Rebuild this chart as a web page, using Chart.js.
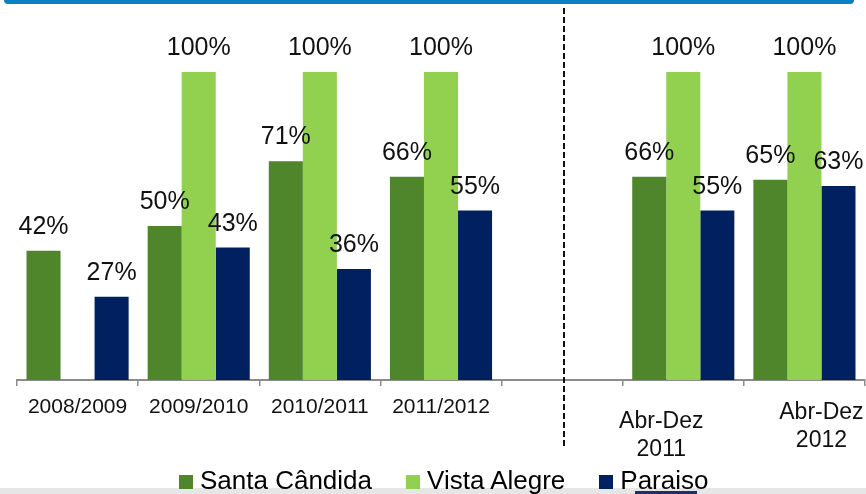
<!DOCTYPE html>
<html>
<head>
<meta charset="utf-8">
<script src="https://cdn.jsdelivr.net/npm/chart.js@4.4.1/dist/chart.umd.min.js"></script>
<style>
  html, body { margin: 0; padding: 0; background: #fff; overflow: hidden; }
  #wrap { position: relative; width: 866px; height: 494px; font-family: "Liberation Sans", Arial, sans-serif; }
  #topBar { position: absolute; left: 4px; top: 0; width: 850px; height: 4px; background: #0b7fc4; border-radius: 0 0 6px 6px; }
  #grayBand { position: absolute; left: 0; top: 488px; width: 866px; height: 6px; background: #e6e6e6; }
  #stub { position: absolute; left: 635px; top: 491px; width: 62px; height: 3px; background: #1b2f6b; }
  #chartCanvas { position: absolute; left: 0; top: 0; z-index: 1; }
  #legend { position: absolute; left: 179px; top: 467px; display: flex; gap: 34px; z-index: 2; font-size: 26px; line-height: 26px; color: #000; }
  #legend .item { display: flex; align-items: flex-start; white-space: nowrap; }
  #legend .box { width: 14px; height: 14px; margin-top: 8px; margin-right: 7px; }
</style>
</head>
<body>
<div id="wrap">
  <div id="grayBand"></div>
  <div id="stub"></div>
  <div id="topBar"></div>
  <canvas id="chartCanvas" width="866" height="494"></canvas>
  <div id="legend"></div>
</div>
<script>
// Dados (percentuais)
const categories = [['2008/2009'], ['2009/2010'], ['2010/2011'], ['2011/2012'], [''], ['Abr-Dez', '2011'], ['Abr-Dez', '2012']];
const santaCandida = [42, 50, 71, 66, null, 66, 65];
const vistaAlegre = [null, 100, 100, 100, null, 100, 100];
const paraiso = [27, 43, 36, 55, null, 55, 63];
const seriesNames = ['Santa Cândida', 'Vista Alegre', 'Paraiso'];

const colors = ['#4f862c', '#92d050', '#002060'];
const fontFamily = '"Liberation Sans", Arial, sans-serif';

// rótulos de valor em cima das barras
const valueLabels = {
  id: 'valueLabels',
  afterDatasetsDraw(chart) {
    const ctx = chart.ctx;
    ctx.save();
    ctx.font = '25px ' + fontFamily;
    ctx.fillStyle = '#111';
    ctx.textAlign = 'center';
    ctx.textBaseline = 'alphabetic';
    chart.data.datasets.forEach((ds, i) => {
      chart.getDatasetMeta(i).data.forEach((bar, j) => {
        const v = ds.data[j];
        if (v == null || isNaN(bar.y)) return;
        ctx.fillText(v + '%', bar.x, bar.y - 17);
      });
    });
    ctx.restore();
  }
};

// rótulos do eixo x (com deslocamentos como no original) + linha tracejada
const xLabels = {
  id: 'xLabels',
  afterDraw(chart, args, opts) {
    const ctx = chart.ctx;
    const xScale = chart.scales.x;
    const base = chart.chartArea.bottom;
    ctx.save();
    ctx.fillStyle = '#111';
    ctx.textAlign = 'center';
    ctx.textBaseline = 'alphabetic';
    chart.data.labels.forEach((lines, i) => {
      const x = xScale.getPixelForValue(i) + opts.dx[i];
      const multi = lines.length > 1;
      ctx.font = (multi ? '23px ' : '21px ') + fontFamily;
      let y = base + (multi ? 39 : 33) + opts.dy[i];
      lines.forEach(t => { ctx.fillText(t, x, y); y += 28; });
    });

    // separador tracejado
    const sx = Math.round(xScale.getPixelForValue(4)) + 2;
    ctx.strokeStyle = '#111';
    ctx.lineWidth = 2;
    ctx.setLineDash([6, 3]);
    ctx.beginPath();
    ctx.moveTo(sx, 8);
    ctx.lineTo(sx, 446);
    ctx.stroke();
    ctx.restore();
  }
};

const chartCanvas = document.getElementById('chartCanvas');
const myChart = new Chart(chartCanvas, {
  type: 'bar',
  data: {
    labels: categories,
    datasets: [
      { label: seriesNames[0], data: santaCandida, backgroundColor: colors[0] },
      { label: seriesNames[1], data: vistaAlegre, backgroundColor: colors[1] },
      { label: seriesNames[2], data: paraiso, backgroundColor: colors[2] }
    ]
  },
  options: {
    responsive: false,
    animation: false,
    categoryPercentage: 0.843,
    barPercentage: 1,
    layout: { padding: { left: 17, right: 1, top: 72, bottom: 108 } },
    plugins: {
      legend: { display: false },
      tooltip: { enabled: false },
      xLabels: { dx: [0, 0, 0, 0, 0, -22, 17], dy: [0, 0, 0, 0, 0, 9, 0] }
    },
    scales: {
      x: {
        grid: { display: true, drawOnChartArea: false, tickLength: 6, color: '#8c8c8c', lineWidth: 1.5 },
        border: { color: '#8c8c8c', width: 2 },
        ticks: { display: false }
      },
      y: { display: false, min: 0, max: 100 }
    }
  },
  plugins: [valueLabels, xLabels]
});

// legenda em HTML
const legend = document.getElementById('legend');
myChart.data.datasets.forEach(ds => {
  const item = document.createElement('div');
  item.className = 'item';
  const box = document.createElement('span');
  box.className = 'box';
  box.style.background = ds.backgroundColor;
  const txt = document.createElement('span');
  txt.textContent = ds.label;
  item.appendChild(box);
  item.appendChild(txt);
  legend.appendChild(item);
});
</script>
</body>
</html>
